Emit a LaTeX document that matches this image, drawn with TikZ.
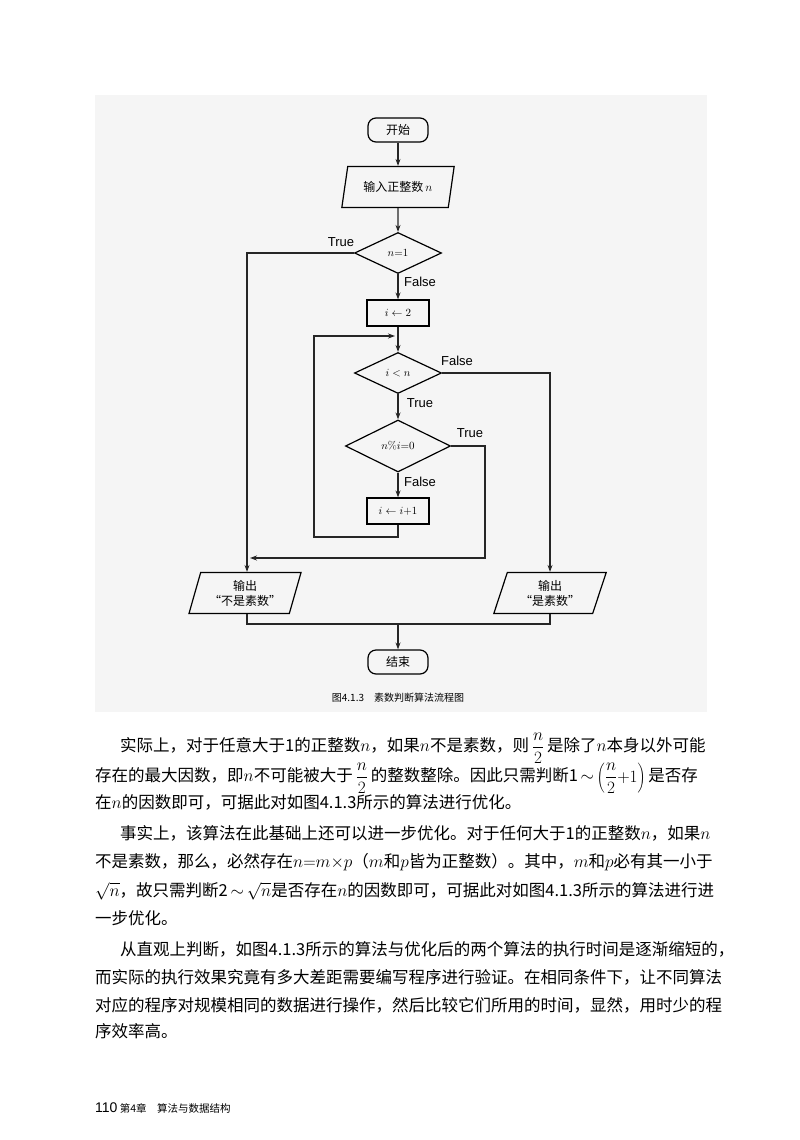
\documentclass[tikz,border=0pt]{standalone}
\usepackage{fontspec}
\usetikzlibrary{shapes.geometric,arrows.meta}
\newfontfamily\cjk{Noto Sans CJK SC}
\newfontfamily\lab{Liberation Sans}
\newcommand{\hfr}{\raisebox{-1pt}{$\displaystyle\frac{n}{2}$}}
\begin{document}
\begin{tikzpicture}[x=1pt,y=-1pt,
  every node/.style={font=\cjk},
  ln/.style={line width=1.2pt,draw=black!85},
  ar/.style={ln,-{Stealth[length=7pt,width=5pt]}},
  term/.style={draw,line width=1.2pt,rounded corners=8pt,minimum width=60pt,minimum height=24pt,inner sep=0pt,font=\cjk\fontsize{12}{14}\selectfont},
  io/.style={draw,line width=1.2pt,trapezium,trapezium left angle=70,trapezium right angle=110,trapezium stretches=true,minimum width=113pt,minimum height=41pt,inner sep=0pt,align=center,font=\cjk\fontsize{12}{15}\selectfont},
  dec/.style={draw,line width=1.2pt,diamond,inner sep=0pt,font=\fontsize{11}{13}\selectfont},
  proc/.style={draw,line width=1.2pt,minimum width=62pt,minimum height=26pt,inner sep=0pt,font=\fontsize{11}{13}\selectfont},
  tf/.style={font=\lab\fontsize{13}{15}\selectfont,inner sep=1pt},
  para/.style={anchor=base west,inner sep=0pt,font=\cjk\fontsize{16.5}{20}\selectfont}]
\useasboundingbox (0,0) rectangle (800,1140);
\fill[white] (0,0) rectangle (800,1140);
\fill[black!4] (95,95) rectangle (707,712);
% nodes
\node[term] (start) at (398,130) {开始};
\node[io] (in) at (398,187) {输入正整数\,$n$};
\node[dec,minimum width=87pt,minimum height=41pt] (d1) at (398,253) {$n{=}1$};
\node[proc] (b1) at (398,313) {$i\leftarrow2$};
\node[dec,minimum width=87pt,minimum height=41pt] (d2) at (398,373) {$i<n$};
\node[dec,minimum width=105pt,minimum height=52pt] (d3) at (398,446) {$n\%i{=}0$};
\node[proc] (b2) at (398,511) {$i\leftarrow i{+}1$};
\node[io] (outL) at (245,593) {输出\\“不是素数”};
\node[io] (outR) at (550,593) {输出\\“是素数”};
\node[term] (end) at (398,662) {结束};
\coordinate (xl) at (247,0);
\coordinate (xr) at (550,0);
\coordinate (loopL) at (314,336);
\coordinate (loopIn) at (398,336);
\coordinate (tR) at (485,558);
\coordinate (join) at (398,624);
% connectors
\draw[ar] (start) -- (in);
\draw[ar] (in) -- (d1);
\draw[ar] (d1.west) -| (xl |- outL.north);
\draw[ar] (d1) -- (b1);
\draw[ar] (b1) -- (d2);
\draw[ar] (d2.east) -| (xr |- outR.north);
\draw[ar] (d2) -- (d3);
\draw[ar] (d3) -- (b2);
\draw[ar] (b2.south) |- (398,537) -| (loopL) -- ([xshift=-3pt]loopIn);
\draw[ar] (d3.east) -| (tR) -- (250,558);
\draw[ln] (xl |- outL.south) |- (join) -| (xr |- outR.south);
\draw[ar] (join) -- (end);
% labels
\node[tf] at (341,242) {True};
\node[tf] at (420,282) {False};
\node[tf] at (457,361) {False};
\node[tf] at (420,403) {True};
\node[tf] at (470,433) {True};
\node[tf] at (420,482) {False};
\node[font=\cjk\fontsize{10}{12}\selectfont] at (398,698) {图4.1.3\quad 素数判断算法流程图};
% paragraphs
\node[para] at (120,751) {实际上，对于任意大于1的正整数$n$，如果$n$不是素数，则\,\hfr\,是除了$n$本身以外可能};
\node[para] at (95,781) {存在的最大因数，即$n$不可能被大于\,\hfr\,的整数整除。因此只需判断1\,$\sim$\,\raisebox{-1pt}{$\displaystyle\left(\frac{n}{2}{+}1\right)$}\,是否存};
\node[para] at (95,808) {在$n$的因数即可，可据此对如图4.1.3所示的算法进行优化。};
\node[para] at (120,839) {事实上，该算法在此基础上还可以进一步优化。对于任何大于1的正整数$n$，如果$n$};
\node[para] at (95,867) {不是素数，那么，必然存在$n{=}m{\times}p$（$m$和$p$皆为正整数）。其中，$m$和$p$必有其一小于};
\node[para] at (95,896) {$\sqrt{n}$，故只需判断2\,$\sim$\,$\sqrt{n}$是否存在$n$的因数即可，可据此对如图4.1.3所示的算法进行进};
\node[para] at (95,924) {一步优化。};
\node[para] at (120,955) {从直观上判断，如图4.1.3所示的算法与优化后的两个算法的执行时间是逐渐缩短的，};
\node[para] at (95,983) {而实际的执行效果究竟有多大差距需要编写程序进行验证。在相同条件下，让不同算法};
\node[para] at (95,1011) {对应的程序对规模相同的数据进行操作，然后比较它们所用的时间，显然，用时少的程};
\node[para] at (95,1037) {序效率高。};
\node[anchor=base west,inner sep=0pt] at (95,1112) {{\lab\fontsize{14}{16}\selectfont 110} {\cjk\fontsize{10.5}{12}\selectfont 第4章\quad 算法与数据结构}};
\end{tikzpicture}
\end{document}
